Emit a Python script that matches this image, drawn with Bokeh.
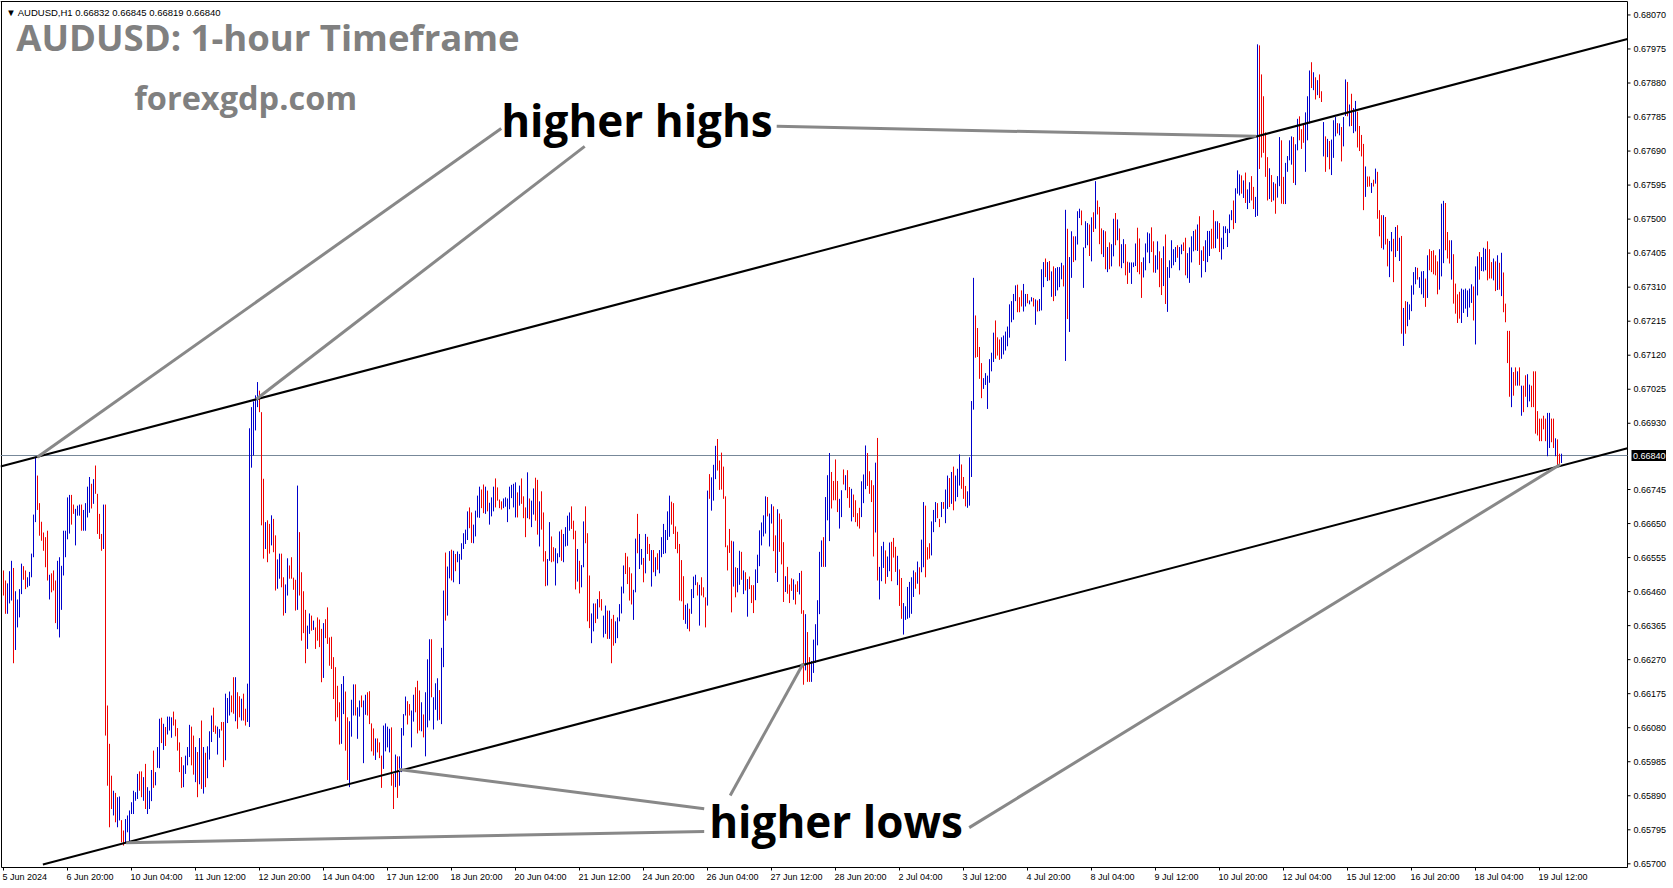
from bokeh.plotting import figure
from bokeh.models import Range1d, Label, ColumnDataSource
from bokeh.embed import file_html
from bokeh.resources import INLINE
from bokeh.core.properties import value

# ---------------- data (AUDUSD H1, prices in 1e-5 units) ----------------
high_pts = [
    66519,66491,66483,66517,66546,66526,66461,66438,66467,66538,
    66531,66519,66500,66515,66566,66675,66833,66784,66707,66655,
    66625,66612,66630,66507,66511,66519,66491,66546,66556,66532,
    66630,66630,66723,66730,66730,66703,66691,66700,66703,66703,
    66688,66707,66753,66780,66761,66774,66812,66733,66677,66621,
    66703,66703,66142,66035,65946,65904,65898,65886,65888,65822,
    65793,65825,65835,65849,65872,65904,65900,65951,65958,65958,
    65942,65979,65914,65904,
    65962,66016,65956,66026,66105,66108,66091,66082,66111,66111,
    66109,66125,66103,66079,66039,65998,65975,66002,66026,66088,
    66083,66058,66026,66012,66051,66100,66026,66010,66028,66070,
    66114,66136,66086,66083,66076,66096,66096,66175,66163,66181,
    66170,66221,66221,66179,66168,66161,66175,66133,66203,66916,
    66975,66991,67008,67045,67021,66961,66775,66654,66659,66649,
    66673,66663,66617,66550,66566,66566,66500,66480,66553,66533,
    66556,66499,66493,66756,66626,
    66514,66461,66409,66365,66399,66393,66379,66360,66388,66382,
    66356,66372,66383,66416,66332,66334,66277,66249,66197,66151,
    66202,66224,66181,66109,66098,66158,66201,66201,66137,66156,
    66170,66156,66172,66179,66182,66092,66078,66050,66050,66039,
    66002,66086,66092,66083,66077,66081,65951,66005,66000,66000,
    66079,66118,66167,66154,66146,66128,66172,66193,66211,66184,
    66151,66117,66179,66271,66327,66327,66165,66204,66218,66185,
    66303,66463,66569,66530,66573,
    66577,66574,66565,66572,66565,66595,66623,66633,66684,66695,
    66681,66647,66686,66728,66753,66745,66759,66753,66742,66708,
    66723,66753,66776,66751,66717,66712,66720,66723,66720,66753,
    66758,66761,66765,66737,66756,66776,66726,66695,66793,66720,
    66714,66748,66778,66772,66712,66740,66681,66573,66551,66654,
    66614,66584,66581,66567,66628,66633,66621,66640,66672,66681,
    66698,66658,66630,66579,66546,66534,66656,66698,66623,66505,
    66399,66427,66427,66439,66461,
    66439,66393,66421,66407,66407,66384,66395,66377,66388,66425,
    66474,66533,66568,66558,66528,66511,66465,66608,66677,66621,
    66579,66554,66621,66613,66593,66576,66576,66556,66567,66576,
    66612,66649,66632,66684,66728,66711,66707,66642,66627,66593,
    66548,66503,66423,66427,66412,66467,66502,66507,66486,66479,
    66500,66472,66444,66742,66788,66779,66814,66867,66886,66826,
    66848,66809,66726,66589,66635,66602,66600,66528,66526,66574,
    66571,66519,66514,66495,66502,
    66478,66478,66522,66563,66631,66653,66673,66726,66724,66678,
    66704,66698,66617,66690,66678,66662,66598,66503,66529,66480,
    66497,66494,66480,66489,66512,66518,66408,66397,66347,66277,
    66266,66326,66369,66436,66571,66603,66612,66724,66785,66847,
    66794,66769,66829,66769,66719,66743,66801,66785,66799,66752,
    66747,66731,66715,66679,66694,66768,66787,66868,66847,66796,
    66771,66757,66820,66889,66529,66587,66599,66575,66558,66597,
    66599,66610,66585,66560,66522,
    66498,66428,66419,66473,66487,66500,66519,66514,66544,66528,
    66605,66710,66700,66584,66595,66656,66688,66710,66707,66663,
    66710,66710,66745,66784,66777,66794,66809,66784,66803,66843,
    66815,66780,66755,66740,66835,66992,67336,67231,67196,67143,
    67098,67056,67070,67063,67109,67127,67183,67217,67170,67164,
    67170,67175,67186,67200,67262,67271,67291,67315,67317,67282,
    67301,67319,67291,67291,67273,67282,67280,67276,67273,67277,
    67360,67380,67390,67380,67383,
    67354,67368,67363,67366,67366,67378,67371,67526,67473,67394,
    67466,67452,67452,67522,67529,67524,67421,67494,67489,67485,
    67505,67519,67606,67552,67534,67474,67469,67466,67422,67435,
    67430,67501,67517,67499,67474,67430,67444,67430,67381,67379,
    67379,67379,67432,67476,67446,67380,67393,67432,67463,67460,
    67477,67438,67399,67438,67410,67391,67424,67457,67366,67385,
    67441,67416,67422,67427,67422,67429,67435,67448,67405,67421,
    67452,67467,67471,67485,67508,
    67413,67424,67441,67467,67467,67473,67525,67494,67494,67489,
    67448,67480,67480,67473,67513,67525,67552,67586,67636,67625,
    67622,67608,67630,67583,67603,67620,67590,67562,67988,67985,
    67904,67843,67742,67673,67642,67623,67603,67599,67620,67729,
    67720,67618,67657,67676,67720,67731,67729,67709,67780,67787,
    67751,67768,67798,67843,67915,67938,67910,67896,67888,67904,
    67857,67771,67731,67724,67718,67722,67776,67785,67768,67767,
    67757,67785,67890,67883,67820,
    67850,67810,67830,67800,67760,67735,67710,
    67647,67619,67619,67601,67610,67641,67632,67525,67511,67511,
    67506,67445,67439,67464,67445,67478,67483,67448,67453,67252,
    67271,67269,67262,67315,67352,67366,67364,67338,67354,67355,
    67334,67399,67416,67411,67413,67399,67382,67416,67543,67551,
    67545,67464,67441,67441,67402,67320,67290,67297,67306,67303,
    67306,67301,67306,67318,67312,67368,67396,67408,67394,67420,
    67417,67438,67416,67380,67390,67382,67399,67378,
    67406,67351,67264,67188,67188,67086,67073,67086,67075,67086,
    67035,67035,67064,67067,67038,67035,67075,67075,66964,66943,
    66943,66951,66943,66959,66959,66943,66943,66888,66885,66845,
    66845,
]

low_pts = [
    66449,66398,66398,66427,66435,66260,66297,66360,66388,66453,
    66493,66467,66472,66476,66500,66556,66654,66688,66616,66602,
    66574,66528,66491,66438,66458,66463,66372,66355,66332,66409,
    66505,66556,66606,66622,66647,66677,66589,66672,66672,66630,
    66630,66630,66667,66680,66692,66705,66733,66621,66607,66574,
    66579,66058,65918,65802,65853,65835,65816,65802,65821,65760,
    65751,65760,65788,65760,65839,65839,65876,65881,65904,65886,
    65876,65853,65839,65853,
    65875,65912,65919,65968,65967,66037,66018,66029,66061,66072,
    66052,66086,66056,66016,65956,65912,65914,65951,65975,65998,
    65975,65949,65928,65886,65922,65909,65896,65914,65939,65991,
    66040,66068,66063,66005,66052,66072,65970,65989,66093,66114,
    66123,66119,66098,66077,66109,66100,66100,66086,66096,66082,
    66806,66840,66910,66975,66961,66645,66552,66579,66542,66566,
    66589,66570,66463,66468,66496,66472,66393,66400,66449,66496,
    66496,66465,66407,66409,66449,
    66323,66344,66260,66300,66342,66351,66353,66300,66323,66305,
    66207,66219,66330,66314,66253,66244,66160,66098,66109,66033,
    66035,66118,66016,65934,65914,66055,66114,66114,66049,66111,
    66137,65981,66116,66114,66090,66014,66002,65990,66011,65995,
    65912,65965,66014,66025,66011,65918,65853,65914,65884,65918,
    65956,66058,66114,66089,66114,66025,66097,66123,66064,66072,
    66070,66053,66000,66081,66100,66165,66075,66130,66100,66102,
    66090,66249,66379,66393,66497,
    66491,66486,66517,66542,66481,66549,66579,66593,66604,66637,
    66596,66595,66614,66667,66666,66693,66679,66677,66684,66647,
    66670,66684,66695,66714,66693,66689,66693,66697,66654,66690,
    66721,66695,66667,66667,66700,66705,66665,66612,66665,66662,
    66640,66675,66658,66619,66586,66633,66544,66475,66477,66546,
    66542,66544,66477,66539,66556,66546,66542,66586,66588,66630,
    66635,66606,66466,66488,66455,66472,66528,66595,66377,66358,
    66316,66349,66372,66384,66416,
    66407,66332,66342,66328,66328,66260,66309,66316,66330,66377,
    66399,66455,66509,66481,66435,66424,66381,66458,66567,66523,
    66535,66486,66511,66565,66546,66474,66514,66503,66521,66511,
    66556,66565,66567,66604,66613,66647,66621,66579,66567,66435,
    66433,66381,66370,66356,66349,66398,66442,66478,66449,66365,
    66449,66444,66360,66421,66719,66686,66714,66774,66798,66744,
    66745,66719,66584,66519,66568,66402,66474,66444,66458,66479,
    66493,66453,66463,66390,66467,
    66428,66400,66436,66484,66531,66589,66614,66622,66670,66586,
    66650,66573,66512,66487,66571,66536,66431,66459,66454,66428,
    66462,66437,66424,66459,66452,66398,66200,66240,66208,66208,
    66208,66233,66261,66310,66397,66529,66529,66529,66659,66601,
    66692,66715,66715,66682,66636,66668,66759,66743,66721,66694,
    66656,66668,66654,66642,66636,66668,66707,66746,66755,66733,
    66710,66558,66625,66491,66438,66489,66526,66482,66501,66517,
    66489,66555,66515,66478,66420,
    66384,66340,66381,66384,66387,66398,66445,66468,66482,66452,
    66514,66528,66500,66549,66552,66561,66626,66654,66665,66640,
    66668,66691,66651,66691,66696,66705,66687,66712,66724,66756,
    66747,66719,66698,66694,66700,66780,66968,67113,67115,67054,
    67000,67026,67037,66970,67043,67075,67101,67110,67119,67107,
    67110,67122,67133,67145,67169,67212,67219,67271,67240,67240,
    67256,67242,67256,67265,67262,67270,67256,67205,67242,67243,
    67245,67310,67338,67327,67329,
    67283,67271,67285,67301,67310,67332,67312,67104,67221,67185,
    67336,67380,67385,67429,67503,67483,67308,67419,67427,67397,
    67382,67464,67473,67513,67430,67402,67394,67360,67352,67360,
    67368,67396,67427,67441,67368,67363,67377,67343,67319,67350,
    67319,67366,67369,67352,67346,67280,67337,67357,67407,67377,
    67408,67351,67350,67359,67310,67288,67313,67263,67241,67336,
    67363,67371,67380,67392,67357,67402,67411,67343,67335,67322,
    67379,67410,67413,67411,67372,
    67337,67383,67352,67380,67397,67417,67418,67419,67445,67408,
    67387,67416,67461,67422,67461,67497,67472,67489,67571,67566,
    67571,67559,67545,67528,67545,67552,67528,67506,67509,67640,
    67672,67685,67618,67552,67556,67548,67552,67515,67560,67592,
    67543,67542,67542,67632,67664,67652,67601,67595,67692,67720,
    67696,67713,67632,67720,67767,67866,67860,67834,67846,67838,
    67827,67675,67632,67673,67639,67623,67671,67731,67739,67734,
    67661,67703,67788,67787,67759,
    67760,67740,67745,67700,67690,67675,67525,
    67562,67590,67591,67573,67591,67599,67501,67452,67419,67415,
    67429,67368,67338,67410,67324,67394,67411,67383,67180,67146,
    67180,67201,67219,67243,67289,67318,67331,67308,67290,67280,
    67255,67280,67357,67352,67346,67343,67290,67303,67340,67377,
    67413,67390,67376,67331,67264,67236,67210,67222,67210,67238,
    67250,67227,67253,67266,67217,67150,67287,67331,67355,67354,
    67357,67329,67334,67334,67329,67299,67302,67303,
    67285,67240,67212,67098,67004,66975,67007,67035,67035,67035,
    66951,66961,67004,66975,66991,66975,66975,66901,66896,66880,
    66880,66913,66880,66838,66861,66877,66861,66838,66811,66811,
    66819,
]

# b = bullish bar (blue), r = bearish bar (red)
bar_dir = (
    "rrbbbrbbbb" "rrbbbbbrrr" "rrrbrrrbbb" "bbbbrrbbbr" "bbbbrbrrrr" "brrrrbrbbr" "rbbbbbbbrr" "brbb"
    "brbbbrbrbb" "brrrrrbbbb" "rrbrbrbrbb" "brrbbrrbbb" "rrbrrbrrbb" "bbbbrrrbrr" "brrbbrrbbr" "rrrbr"
    "rrrbbrbrrr" "rbrrrrrrrr" "bbrrbbbrbb" "rbbrrrrbrr" "rbbbbrrbrb" "bbbrrbbrrr" "brbbbrbbbr" "bbrbb"
    "rbrbbbbbbr" "rbbbbrrbrb" "bbrrrrbbbb" "bbbrbrrrbr" "bbrrbrrrbb" "rrbbbrbbbb" "rrrbrbbrrr" "bbrbr"
    "rbbrbrrbbb" "bbrrrrbbrb" "brbrrbrbrb" "bbbbbrrrrr" "rrbbrbbbrb" "rrrbrbbbrr" "rrrrrrbrbb" "rbrbr"
    "rrbbbbbbrb" "brrbrrrbrr" "rbrrbrrbrr" "bbbbbbrbbb" "rrrrbbrbrr" "brrrrbbbrr" "rrbrbbbrbb" "rrrbr"
    "rbbbbbbrbr" "bbrrrbbbrr" "brbbrbrbbb" "rrrbbbbrrr" "rbbbbbbrrr" "bbbbbbbbrr" "rbbrbbrbrb" "bbrbr"
    "brbbbbrbrb" "brbbbrbbbr" "brbrrrbrbr" "bbrbrbbrrb" "bbbrrrbbbb" "rrbbrrbrbb" "bbbrbbrrbb" "bbrbr"
    "brbbbrrbbr" "bbbbbbrbbb" "rbrbbrrbbr" "rrrrbrbrbb" "rrbbbbrbbr" "rrbbbrbrbr" "rbrbrbbbrb" "rbbrb"
    "rbbrrrr"
    "brrbrbrrrb" "rrbbrbrbrb" "rbbbbbrbbb" "rbrrrrrbbb" "rrrbrrrrbb" "bbbbrbbrbb" "brrrbrbr"
    "brrrrbrrbr" "brrbbrrrrr" "rrrbbrrbrr" "b"
)

time_labels = ["5 Jun 2024", "6 Jun 20:00", "10 Jun 04:00", "11 Jun 12:00", "12 Jun 20:00",
               "14 Jun 04:00", "17 Jun 12:00", "18 Jun 20:00", "20 Jun 04:00", "21 Jun 12:00",
               "24 Jun 20:00", "26 Jun 04:00", "27 Jun 12:00", "28 Jun 20:00", "2 Jul 04:00",
               "3 Jul 12:00", "4 Jul 20:00", "8 Jul 04:00", "9 Jul 12:00", "10 Jul 20:00",
               "12 Jul 04:00", "15 Jul 12:00", "16 Jul 20:00", "18 Jul 04:00", "19 Jul 12:00"]
bars_per_label = 32

price_ticks = [0.65700, 0.65795, 0.65890, 0.65985, 0.66080, 0.66175, 0.66270, 0.66365,
               0.66460, 0.66555, 0.66650, 0.66745, 0.66930, 0.67025, 0.67120, 0.67215,
               0.67310, 0.67405, 0.67500, 0.67595, 0.67690, 0.67785, 0.67880, 0.67975, 0.68070]
price_tick_labels = ["%.5f" % t for t in price_ticks]
last_price = 0.66840
header_text = "\u25BC AUDUSD,H1  0.66832 0.66845 0.66819 0.66840"

# trend channel anchors (bar index, price)
upper_channel = [(-1.65, 0.66809), (812.0, 0.68003)]
lower_channel = [(19.7, 0.65698), (812.0, 0.66860)]

# pointer lines of the annotations (bar index, price)
highs_pointers = [((16.85, 0.66835), (248.85, 0.67753)),
                  ((126.35, 0.66997), (290.6, 0.67703)),
                  ((386.6, 0.67759), (626.35, 0.67731))]
lows_pointers = [((61.35, 0.65759), (350.35, 0.65790)),
                 ((197.85, 0.65963), (350.35, 0.65854)),
                 ((363.35, 0.65891), (399.85, 0.66259)),
                 ((482.85, 0.65801), (778.35, 0.66815))]

# ---------------- layout (one frame covering the whole canvas) ----------------
W, H = 1673, 888
ux = 0.5                      # bars per pixel (2 px per bar, like MT4)
XS = -1.5                     # bar index at the left canvas edge
XE = XS + W * ux
AXIS_PX = 1627                # price scale line (px)
AX = XS + AXIS_PX * ux
uy = 2.792e-5                 # price per pixel
YE = last_price + 455 * uy    # price at the top canvas edge
YS = YE - H * uy

def py(px):                   # pixel row -> price
    return YE - px * uy

def bx(px):                   # pixel column -> bar index
    return XS + px * ux

PB = py(867)                  # time scale line
TOP = py(1)

p = figure(width=W, height=H, output_backend="svg", toolbar_location=None,
           x_range=Range1d(XS, XE), y_range=Range1d(YS, YE),
           x_axis_location=None, y_axis_location=None, min_border=0)
p.xgrid.visible = False
p.ygrid.visible = False
p.outline_line_color = None
p.background_fill_color = "white"
p.border_fill_color = "white"

# frame lines: top, left, price scale, time scale
p.segment(x0=[bx(0), bx(1), AX, bx(1)], y0=[TOP, TOP, TOP, PB],
          x1=[AX, bx(1), AX, AX], y1=[TOP, PB, PB, PB],
          line_color="black", line_width=1)

# current price line
p.segment(x0=[bx(0)], y0=[last_price], x1=[AX], y1=[last_price], line_color="#778899", line_width=1)

# bars
n = min(len(high_pts), len(low_pts), len(bar_dir))
src = ColumnDataSource(dict(
    x=list(range(n)),
    hi=[v / 1e5 for v in high_pts[:n]],
    lo=[v / 1e5 for v in low_pts[:n]],
    c=["#0000cc" if d == "b" else "#ee0000" for d in bar_dir[:n]]))
p.segment(x0="x", y0="lo", x1="x", y1="hi", line_color="c", line_width=1, source=src)

# channel lines
def extend(a, b, xa_, xb_):
    s = (b[1] - a[1]) / (b[0] - a[0])
    return [xa_, xb_], [a[1] + s * (xa_ - a[0]), a[1] + s * (xb_ - a[0])]

lx, ly = extend(upper_channel[0], upper_channel[1], bx(0), AX)
p.line(lx, ly, line_color="black", line_width=2)
lx, ly = extend(lower_channel[0], lower_channel[1], lower_channel[0][0], AX)
p.line(lx, ly, line_color="black", line_width=2)

# pointer lines
for a, b in highs_pointers + lows_pointers:
    p.line([a[0], b[0]], [a[1], b[1]], line_color="#888888", line_width=3)

# price scale ticks and labels
nt = len(price_ticks)
p.segment(x0=[AX] * nt, y0=price_ticks, x1=[AX + 3 * ux] * nt, y1=price_ticks,
          line_color="black", line_width=1)
p.text(x=[AX + 6 * ux] * nt, y=price_ticks, text=price_tick_labels,
       text_font=value("Liberation Sans"), text_font_size=value("9px"), text_color="black",
       text_align="left", text_baseline="middle")

# current price box
p.quad(left=[AX + 4 * ux], right=[AX + 38.5 * ux], bottom=[last_price - 5.5 * uy],
       top=[last_price + 5.5 * uy], fill_color="black", line_color=None)
p.text(x=[AX + 5.5 * ux], y=[last_price], text=["%.5f" % last_price],
       text_font=value("Liberation Sans"), text_font_size=value("9px"), text_color="white",
       text_align="left", text_baseline="middle")

# time scale ticks and labels
tx = [i * bars_per_label for i in range(len(time_labels))]
p.segment(x0=tx, y0=[PB] * len(tx), x1=tx, y1=[PB - 3 * uy] * len(tx),
          line_color="black", line_width=1)
p.text(x=[t - 0.5 for t in tx], y=[py(876.5)] * len(tx), text=time_labels,
       text_font=value("Liberation Sans"), text_font_size=value("9px"), text_color="black",
       text_align="left", text_baseline="middle")

# texts
p.add_layout(Label(x=1.35, y=0.68078, text=header_text, text_font="Liberation Sans",
                   text_font_size="9.5px", text_color="black", text_baseline="alphabetic"))
p.add_layout(Label(x=6.35, y=0.68008, text="AUDUSD: 1-hour Timeframe", text_font="Open Sans",
                   text_font_style="bold", text_font_size="36.5px", text_color="#808080",
                   text_baseline="alphabetic"))
p.add_layout(Label(x=65.35, y=0.67840, text="forexgdp.com", text_font="Open Sans",
                   text_font_style="bold", text_font_size="32.5px", text_color="#808080",
                   text_baseline="alphabetic"))
p.add_layout(Label(x=248.85, y=0.67776, text="higher highs", text_font="Open Sans",
                   text_font_style="bold", text_font_size="44px", text_color="black",
                   text_baseline="alphabetic"))
p.add_layout(Label(x=352.85, y=0.65819, text="higher lows", text_font="Open Sans",
                   text_font_style="bold", text_font_size="44px", text_color="black",
                   text_baseline="alphabetic"))

open("out.html", "w").write(file_html(p, INLINE))
